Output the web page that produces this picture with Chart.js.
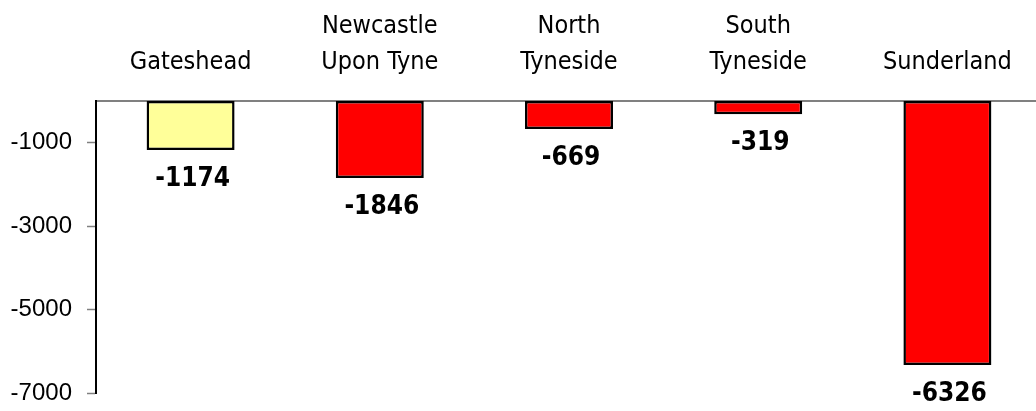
<!DOCTYPE html>
<html><head><meta charset="utf-8">
<script src="https://cdn.jsdelivr.net/npm/chart.js@4"></script>
<style>html,body{margin:0;padding:0;background:#fff;overflow:hidden;width:1036px;height:411px}
#wrap{position:absolute;left:0;top:0;width:1042px;height:411px}</style>
</head><body><div id="wrap"><canvas id="c" width="1042" height="411"></canvas></div>
<script>
const categories = [["Gateshead"], ["Newcastle", "Upon Tyne"], ["North", "Tyneside"], ["South", "Tyneside"], ["Sunderland"]];
const values = [-1174, -1846, -669, -319, -6326];
const barColors = ["#FFFF99", "#FF0000", "#FF0000", "#FF0000", "#FF0000"];
const yTicks = [-1000, -3000, -5000, -7000];
const yMin = -7000, yMax = 0;

const labelFont = '"DejaVu Sans Condensed", "DejaVu Sans", sans-serif';

const valueLabels = {
  id: 'valueLabels',
  afterDatasetsDraw(chart) {
    const ctx = chart.ctx;
    const meta = chart.getDatasetMeta(0);
    ctx.save();
    ctx.font = 'bold 26px ' + labelFont;
    ctx.fillStyle = '#000';
    ctx.textAlign = 'center';
    ctx.textBaseline = 'alphabetic';
    meta.data.forEach((bar, i) => {
      ctx.fillText(String(values[i]), bar.x + 2, bar.y + 36);
    });
    ctx.restore();
  }
};

new Chart(document.getElementById('c'), {
  type: 'bar',
  data: {
    labels: categories,
    datasets: [{
      data: values,
      backgroundColor: barColors,
      borderColor: '#000',
      borderWidth: 2.5,
      borderSkipped: false,
      barPercentage: 0.465,
      categoryPercentage: 1
    }]
  },
  options: {
    responsive: false,
    animation: false,
    layout: { padding: { top: 0, bottom: 18, left: 0, right: 0 } },
    plugins: { legend: { display: false }, tooltip: { enabled: false } },
    scales: {
      x: {
        position: 'top',
        grid: { display: false, drawTicks: false },
        border: { display: true, color: '#808080', width: 2 },
        ticks: { color: '#000', font: { family: labelFont, size: 25, lineHeight: 1.44 }, padding: 21, maxRotation: 0, autoSkip: false },
        afterFit(s) { s.height = 101; }
      },
      y: {
        min: yMin, max: yMax,
        afterBuildTicks(s) { s.ticks = yTicks.map(v => ({ value: v })); },
        grid: { drawOnChartArea: false, drawTicks: true, tickLength: 9, tickColor: '#808080', tickWidth: 1.5 },
        border: { display: true, color: '#000', width: 2 },
        ticks: { color: '#000', font: { family: '"Liberation Sans", Arial, sans-serif', size: 24 }, padding: 15, callback: v => String(v) },
        afterFit(s) { s.width = 96; s.paddingTop = 0; s.paddingBottom = 0; }
      }
    }
  },
  plugins: [valueLabels]
});
</script></body></html>
